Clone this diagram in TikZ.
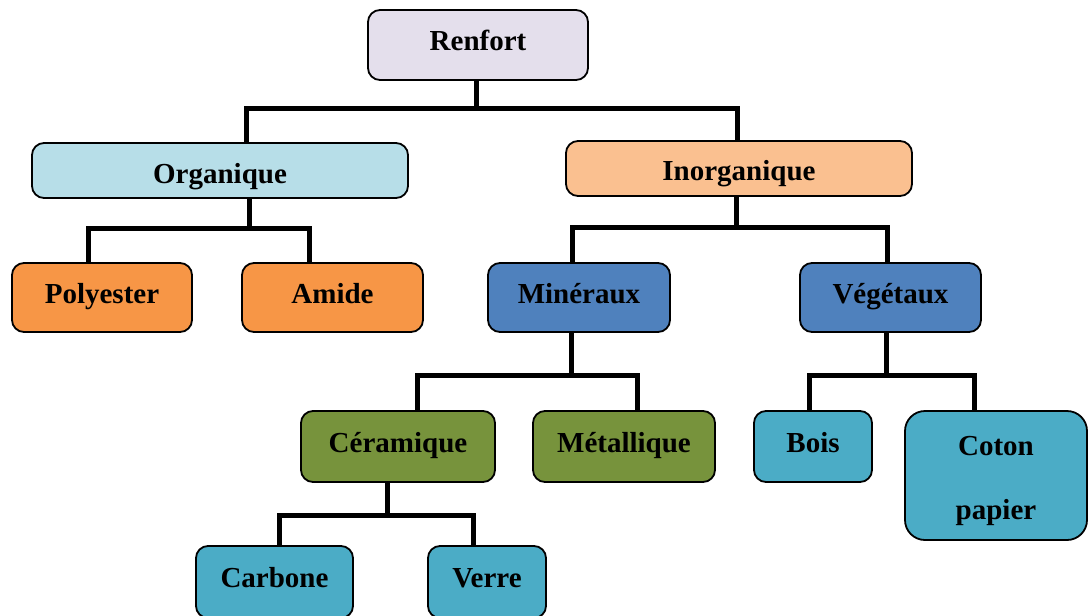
\documentclass[tikz,border=0pt]{standalone}
\usepackage{fontspec}
\setmainfont{Liberation Serif}
\definecolor{lavande}{HTML}{E4DFEC}
\definecolor{ciel}{HTML}{B7DEE8}
\definecolor{peche}{HTML}{FAC090}
\definecolor{orange}{HTML}{F79646}
\definecolor{bleu}{HTML}{4F81BD}
\definecolor{olive}{HTML}{77933C}
\definecolor{turquoise}{HTML}{4BACC6}
\tikzset{
	box/.style      = {shape=rectangle, rounded corners=6pt,
		draw, line width=0.9pt, align=center, inner sep=0pt,
		font=\fontsize{14.5}{17}\selectfont\bfseries},
	oneline/.style  = {box, text height=9.5pt, text depth=4pt},
	root/.style     = {oneline, fill=lavande},
	organic/.style  = {oneline, fill=ciel, text height=17pt},
	inorganic/.style= {oneline, fill=peche, text height=15.5pt},
	polymer/.style  = {oneline, fill=orange},
	family/.style   = {oneline, fill=bleu},
	kind/.style     = {oneline, fill=olive},
	leaf/.style     = {oneline, fill=turquoise},
	link/.style     = {draw, line width=2.5pt}
}
\begin{document}
\begin{tikzpicture}
[
x = 0.5pt,
y = -0.5pt
]
\useasboundingbox (0,0) rectangle (1088,616);
% boxes
\node [root, minimum width=110pt, minimum height=35pt] (renfort) at (478,45) {Renfort};
\node [organic, minimum width=188pt, minimum height=27.5pt] (org) at (220,170.5) {Organique};
\node [inorganic, minimum width=173pt, minimum height=27.5pt] (inorg) at (739,168.5) {Inorganique};
\node [polymer, minimum width=90pt, minimum height=34.5pt] (poly) at (102,297.5) {Polyester};
\node [polymer, minimum width=90.5pt, minimum height=34.5pt] (amide) at (332.5,297.5) {Amide};
\node [family, minimum width=91pt, minimum height=34.5pt] (min) at (579,297.5) {Minéraux};
\node [family, minimum width=90.5pt, minimum height=34.5pt] (veg) at (890.5,297.5) {Végétaux};
\node [kind, minimum width=97pt, minimum height=35.5pt] (ceram) at (398,446.5) {Céramique};
\node [kind, minimum width=91pt, minimum height=35.5pt] (metal) at (624,446.5) {Métallique};
\node [leaf, minimum width=59pt, minimum height=35.5pt] (bois) at (813,446.5) {Bois};
\node [box, fill=turquoise, rounded corners=10pt, minimum width=91pt, minimum height=64.5pt] (coton) at (996,475.5) {\rule{0pt}{15.5pt}Coton\\[15pt]papier};
\node [leaf, minimum width=78.5pt, minimum height=36pt] (carbone) at (274.5,582) {Carbone};
\node [leaf, minimum width=59pt, minimum height=36pt] (verre) at (487,582) {Verre};
% bus ends
\coordinate (renf-l) at (246,108);
\coordinate (renf-m) at (476,108);
\coordinate (renf-r) at (737,108);
\coordinate (org-l) at (88,228);
\coordinate (org-m) at (249,228);
\coordinate (org-r) at (309,228);
\coordinate (inorg-l) at (572,227);
\coordinate (inorg-m) at (736,227);
\coordinate (inorg-r) at (887,227);
\coordinate (min-l) at (417,375);
\coordinate (min-m) at (571,375);
\coordinate (min-r) at (637,375);
\coordinate (veg-l) at (809,375);
\coordinate (veg-m) at (886,375);
\coordinate (veg-r) at (974,375);
\coordinate (ceram-l) at (279,515);
\coordinate (ceram-m) at (387,515);
\coordinate (ceram-r) at (473,515);
% connectors
\draw [link] (renfort.south -| renf-m) -- (renf-m);
\draw [link] (org.north -| renf-l) -- (renf-l) -- (renf-r) -- (inorg.north -| renf-r);
\draw [link] (org.south -| org-m) -- (org-m);
\draw [link] (poly.north -| org-l) -- (org-l) -- (org-r) -- (amide.north -| org-r);
\draw [link] (inorg.south -| inorg-m) -- (inorg-m);
\draw [link] (min.north -| inorg-l) -- (inorg-l) -- (inorg-r) -- (veg.north -| inorg-r);
\draw [link] (min.south -| min-m) -- (min-m);
\draw [link] (ceram.north -| min-l) -- (min-l) -- (min-r) -- (metal.north -| min-r);
\draw [link] (veg.south -| veg-m) -- (veg-m);
\draw [link] (bois.north -| veg-l) -- (veg-l) -- (veg-r) -- (coton.north -| veg-r);
\draw [link] (ceram.south -| ceram-m) -- (ceram-m);
\draw [link] (carbone.north -| ceram-l) -- (ceram-l) -- (ceram-r) -- (verre.north -| ceram-r);
\end{tikzpicture}
\end{document}
